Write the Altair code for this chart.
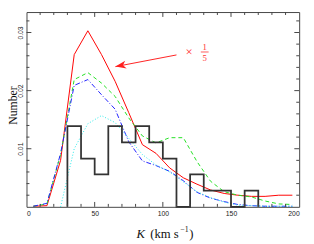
import altair as alt
import pandas as pd

# ---- data ----
K_GRID = [5, 15, 25, 35, 45, 55, 65, 75, 85, 95, 105, 115, 125, 135, 145, 155, 165, 175, 185, 195]
RED_X5 = [0.0001, 0.0002, 0.0080, 0.0262, 0.0303, 0.0262, 0.0216, 0.0162, 0.0107, 0.0092, 0.0067,
          0.0050, 0.0039, 0.0029, 0.0023, 0.0020, 0.0018, 0.0018, 0.0020, 0.0020]
GREEN = [0.0001, 0.0005, 0.0090, 0.0219, 0.0231, 0.0213, 0.0190, 0.0153, 0.0122, 0.0110, 0.0119,
         0.0119, 0.0078, 0.0044, 0.0026, 0.0020, 0.0017, 0.0010, 0.0005, 0.0004]
BLUE = [0.0001, 0.0006, 0.0092, 0.0209, 0.0219, 0.0193, 0.0168, 0.0112, 0.0079, 0.0071, 0.0061,
        0.0045, 0.0025, 0.0015, 0.0009, 0.0004, 0.0002, 0.0001, 0.0001, 0.0001]
CYAN_K = [25, 35, 45, 55, 65, 75, 85, 95, 105, 115, 125, 135, 145, 155, 165, 175, 185, 195]
CYAN = [0.0000, 0.0100, 0.0143, 0.0157, 0.0145, 0.0118, 0.0090, 0.0072, 0.0060, 0.0043, 0.0026,
        0.0016, 0.0008, 0.0003, 0.0002, 0.0001, 0.0001, 0.0001]

HIST_LEFT = [30, 40, 50, 60, 70, 80, 90, 100, 110, 120, 130, 140, 150, 160]
HIST_VAL = [0.0139, 0.0083, 0.0056, 0.0139, 0.0111, 0.0139, 0.0111, 0.0083, 0.0, 0.0056,
            0.0028, 0.0028, 0.0, 0.0028]
HIST_END = 170

X_MAJOR = [50, 100, 150]
X_MINOR = [10, 20, 30, 40, 60, 70, 80, 90, 110, 120, 130, 140, 160, 170, 180, 190]
X_LABELS = [0, 50, 100, 150, 200]
Y_MAJOR = [0.01, 0.02, 0.03]
Y_MINOR = [0.002, 0.004, 0.006, 0.008, 0.012, 0.014, 0.016, 0.018, 0.022, 0.024, 0.026,
           0.028, 0.032]

ARROW_K = [110, 65.2]
ARROW_V = [0.02614, 0.02413]

W, H = 280, 200
xs = alt.Scale(domain=[0, 200], nice=False, zero=False)
ys = alt.Scale(domain=[0, 0.03352], nice=False, zero=False)
AX = alt.Axis(values=X_LABELS, labelFont="Liberation Sans", labelFontSize=7,
              labelColor="#222", labelPadding=3, format="d", title=None)
AY = alt.Axis(values=Y_MAJOR, format=".2f", labelAngle=270, labelAlign="center",
              labelBaseline="bottom", labelFont="Liberation Sans", labelFontSize=7,
              labelColor="#222", labelPadding=3, title=None)

# ---- tables ----
curves = pd.DataFrame({"K": K_GRID, "red": RED_X5, "green": GREEN, "blue": BLUE})
cyan = pd.DataFrame({"K": CYAN_K, "v": CYAN})

hk, hv = [HIST_LEFT[0]], [0.0]
for k, v in zip(HIST_LEFT, HIST_VAL):
    hk.append(k)
    hv.append(v)
hk.append(HIST_END)
hv.append(0.0)
hist = pd.DataFrame({"K": hk, "v": hv, "i": list(range(len(hk)))})

X = lambda f: alt.X(f, type="quantitative", scale=xs, axis=AX)
Y = lambda f: alt.Y(f, type="quantitative", scale=ys, axis=AY)

base = alt.Chart(curves)

main = base.mark_line(color="#ff0000", strokeWidth=1).encode(x=X("K"), y=Y("red"))
green = base.mark_line(color="#22e022", strokeWidth=1, strokeDash=[4, 3]).encode(
    x=X("K"), y=Y("green"))
blue = base.mark_line(color="#2020ff", strokeWidth=1, strokeDash=[5, 2, 1, 2]).encode(
    x=X("K"), y=Y("blue"))
cyan_l = alt.Chart(cyan).mark_line(color="#22e8e8", strokeWidth=1, strokeDash=[1, 2]).encode(
    x=X("K"), y=Y("v"))
hist_l = alt.Chart(hist).mark_line(color="#333333", strokeWidth=1.8, interpolate="step-after").encode(
    x=X("K"), y=Y("v"), order=alt.Order("i:Q"))

# ticks (inward, on all four sides)
def xticks(vals, length):
    d = alt.Chart(pd.DataFrame({"t": vals}))
    b = d.mark_rule(color="#444", strokeWidth=1).encode(x=X("t"), y=alt.value(H), y2=alt.value(H - length))
    t = d.mark_rule(color="#444", strokeWidth=1).encode(x=X("t"), y=alt.value(0), y2=alt.value(length))
    return [b, t]

def yticks(vals, length):
    d = alt.Chart(pd.DataFrame({"t": vals}))
    l = d.mark_rule(color="#444", strokeWidth=1).encode(y=Y("t"), x=alt.value(0), x2=alt.value(length))
    r = d.mark_rule(color="#444", strokeWidth=1).encode(y=Y("t"), x=alt.value(W), x2=alt.value(W - length))
    return [l, r]

ticks = xticks(X_MAJOR, 5) + xticks(X_MINOR, 3) + yticks(Y_MAJOR, 5) + yticks(Y_MINOR, 3)

# arrow annotation
arrow_df = pd.DataFrame({"K": ARROW_K, "v": ARROW_V})
arrow_line = alt.Chart(arrow_df).mark_line(color="#ff2020", strokeWidth=1).encode(x=X("K"), y=Y("v"))
arrow_head = alt.Chart(arrow_df.iloc[[1]]).mark_point(
    shape="M0,0 L2,-0.75 L1.45,0 L2,0.75 Z", size=121, filled=True, color="#ff2020",
    opacity=1, angle=349, strokeWidth=0).encode(x=X("K"), y=Y("v"))

red_txt = "#ff3030"
times = alt.Chart(pd.DataFrame({"s": ["\u00d7"]})).mark_text(
    font="Liberation Serif", fontSize=13, color=red_txt, align="center", baseline="middle").encode(
    text="s:N", x=alt.value(167), y=alt.value(41.3))
one = alt.Chart(pd.DataFrame({"s": ["1"]})).mark_text(
    font="Liberation Serif", fontSize=9, color=red_txt, align="center", baseline="middle").encode(
    text="s:N", x=alt.value(183), y=alt.value(35.5))
five = alt.Chart(pd.DataFrame({"s": ["5"]})).mark_text(
    font="Liberation Serif", fontSize=9, color=red_txt, align="center", baseline="middle").encode(
    text="s:N", x=alt.value(183), y=alt.value(47.2))
bar = alt.Chart(pd.DataFrame({"s": [1]})).mark_rule(color=red_txt, strokeWidth=0.8).encode(
    x=alt.value(179), x2=alt.value(187), y=alt.value(41))

# axis titles
ytitle = alt.Chart(pd.DataFrame({"s": ["Number"]})).mark_text(
    font="Liberation Serif", fontSize=12, color="#111", angle=270, align="center",
    baseline="alphabetic").encode(text="s:N", x=alt.value(-10), y=alt.value(96))
xk = alt.Chart(pd.DataFrame({"s": ["K"]})).mark_text(
    font="Liberation Serif", fontSize=13, fontStyle="italic", color="#111", align="left",
    baseline="alphabetic").encode(text="s:N", x=alt.value(113), y=alt.value(232))
xunit = alt.Chart(pd.DataFrame({"s": ["(km s"]})).mark_text(
    font="Liberation Serif", fontSize=13, color="#111", align="left",
    baseline="alphabetic").encode(text="s:N", x=alt.value(127), y=alt.value(232))
xsup = alt.Chart(pd.DataFrame({"s": ["\u22121"]})).mark_text(
    font="Liberation Serif", fontSize=8, color="#111", align="left",
    baseline="alphabetic").encode(text="s:N", x=alt.value(158), y=alt.value(226))
xclose = alt.Chart(pd.DataFrame({"s": [")"]})).mark_text(
    font="Liberation Serif", fontSize=13, color="#111", align="left",
    baseline="alphabetic").encode(text="s:N", x=alt.value(167), y=alt.value(232))

chart = alt.layer(
    main, green, blue, cyan_l, hist_l, *ticks, arrow_line, arrow_head,
    times, one, five, bar, ytitle, xk, xunit, xsup, xclose
).properties(
    width=W, height=H,
    autosize=alt.AutoSizeParams(type="none"),
    padding={"left": 19, "top": 1, "right": 7, "bottom": 35},
    background="white",
).configure_view(stroke="#444", strokeWidth=1).configure_axis(
    domain=False, ticks=False, grid=False)

chart.save("out.html", embed_options={"renderer": "svg", "actions": False})
